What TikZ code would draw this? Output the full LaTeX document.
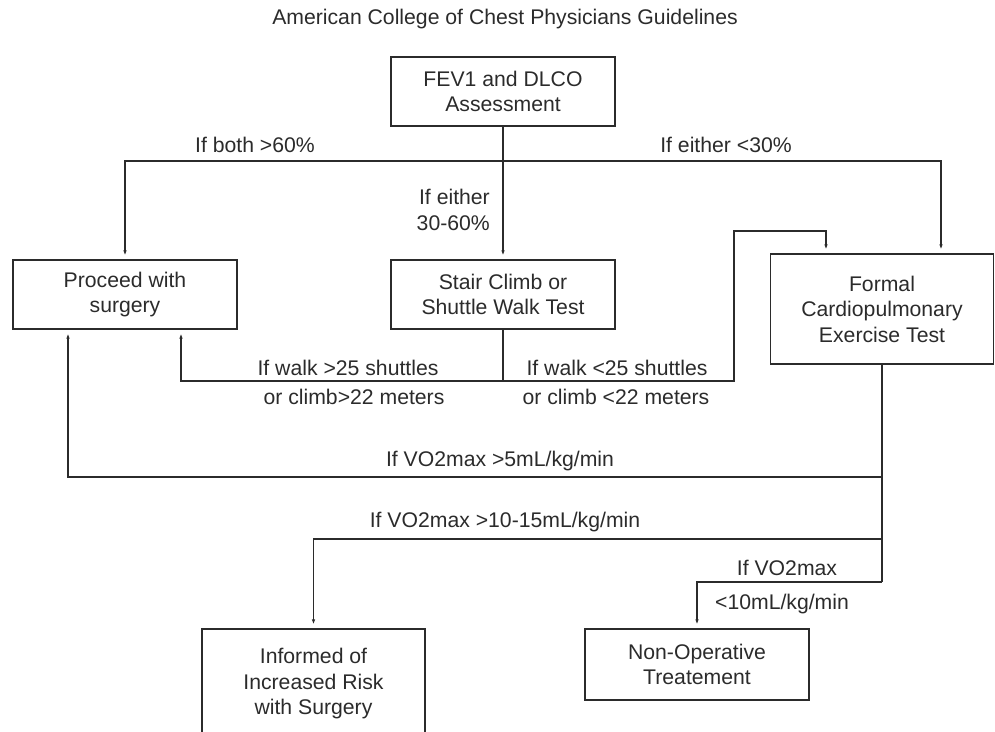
\documentclass[tikz,border=0pt]{standalone}
\usepackage{fontspec}
\setmainfont{Liberation Sans}
\usepackage{tikz}
\usetikzlibrary{arrows.meta}
\usetikzlibrary{calc}
\usetikzlibrary{positioning}
\definecolor{chart-ink}{HTML}{2B2B2B}

\tikzset{
  box/.style={draw=chart-ink, line width=1.2pt, inner sep=0pt, align=center,
    text=chart-ink, font=\fontsize{21.2}{25.5}\selectfont},
  lbl/.style={inner sep=0pt, align=center, text=chart-ink,
    font=\fontsize{21.2}{25.5}\selectfont},
  flow/.style={draw=chart-ink, line width=1.1pt},
  arr/.style={flow, -{Latex[length=5pt, width=3.5pt]}, shorten >=4pt},
}

\begin{document}
\begin{tikzpicture}[x=1pt, y=-1pt]

    \clip (0,0) rectangle (995,731);

    % title
    \node[lbl] (title) at (505,19) {American College of Chest Physicians Guidelines};

    % boxes
    \node[box, minimum width=224pt, minimum height=69pt] (fev) at (503,91.5) {FEV1 and DLCO\\Assessment};
    \node[box, minimum width=224pt, minimum height=69pt] (proceed) at (125,294.5) {Proceed with\\surgery};
    \node[box, minimum width=224pt, minimum height=69pt] (stair) at (503,294.5) {Stair Climb or\\Shuttle Walk Test};
    \node[box, minimum width=223pt, minimum height=110pt] (formal) at (882,309) {Formal\\Cardiopulmonary\\Exercise Test};
    \node[box, minimum width=223pt, minimum height=110pt] (informed) at (313.5,684) {Informed of\\Increased Risk\\with Surgery};
    \node[box, minimum width=224pt, minimum height=71pt] (nonop) at (697,664.5) {Non-Operative\\Treatement};

    % branch points
    \coordinate (split-a) at (503,161);
    \coordinate (either-turn) at (941,161);
    \coordinate (split-b) at (503,381);
    \coordinate (walk-ok) at (181,381);
    \coordinate (walk-low) at (734,381);
    \coordinate (loop-top) at (734,231);
    \coordinate (loop-end) at (826,231);
    \coordinate (vo-a) at (882,477);
    \coordinate (vo-b) at (882,539);
    \coordinate (vo-c) at (882,582);
    \coordinate (vo-five) at (68,477);

    % first test
    \draw[flow] (fev) -- (split-a);
    \draw[arr] (split-a) -- (stair);
    \draw[arr] (split-a) -| (proceed);
    \draw[arr] (split-a) -- (either-turn) -- (either-turn |- formal.north);

    % walk test
    \draw[flow] (stair) -- (split-b);
    \draw[arr] (split-b) -- (walk-ok) -- (walk-ok |- proceed.south);
    \draw[arr] (split-b) -- (walk-low) -- (loop-top) -- (loop-end) -- (loop-end |- formal.north);

    % exercise test
    \draw[flow] (formal) -- (vo-c);
    \draw[arr] (vo-a) -- (vo-five) -- (vo-five |- proceed.south);
    \draw[arr] (vo-b) -| (informed);
    \draw[arr] (vo-c) -| (nonop);

    % labels
    \node[lbl] (both-hi) at (255,145) {If both >60\%};
    \node[lbl] (either-lo) at (726,145) {If either <30\%};
    \node[lbl, anchor=east, align=right] (either-mid) at (490,210) {If either\\30-60\%};
    \node[lbl] (walk-hi) at (348,368) {If walk >25 shuttles};
    \node[lbl] (climb-hi) at (354,397) {or climb>22 meters};
    \node[lbl] (walk-lo) at (617,368) {If walk <25 shuttles};
    \node[lbl] (climb-lo) at (616,397) {or climb <22 meters};
    \node[lbl] (vo-five-lbl) at (500,461) {If VO2max >5mL/kg/min};
    \node[lbl] (vo-ten-lbl) at (505,522) {If VO2max >10-15mL/kg/min};
    \node[lbl] (vo-low-a) at (787,568) {If VO2max};
    \node[lbl] (vo-low-b) at (782,604) {<10mL/kg/min};

\end{tikzpicture}
\end{document}
